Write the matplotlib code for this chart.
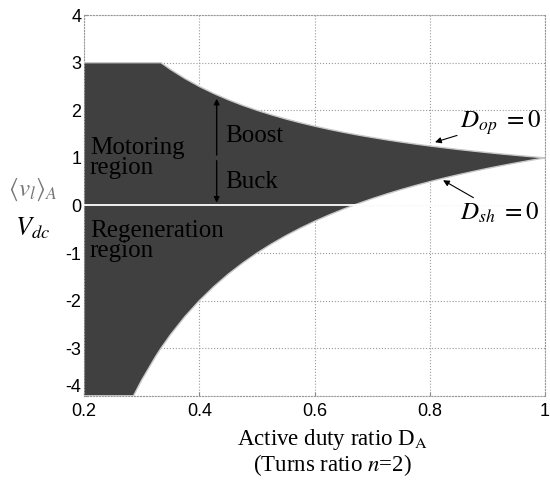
import matplotlib.pyplot as plt
import numpy as np

# Operating region (active duty ratio vs normalised voltage)
duty = [0.200, 0.225, 0.250, 0.275, 0.2857, 0.300, 0.325, 0.3333, 0.350, 0.375,
        0.400, 0.425, 0.450, 0.475, 0.500, 0.525, 0.550, 0.575, 0.600, 0.625,
        0.650, 0.675, 0.700, 0.725, 0.750, 0.775, 0.800, 0.825, 0.850, 0.875,
        0.900, 0.925, 0.950, 0.975, 1.000]
upper = [3.0, 3.0, 3.0, 3.0, 3.0, 3.0, 3.0, 3.0, 2.857, 2.667,
         2.5, 2.353, 2.222, 2.105, 2.0, 1.905, 1.818, 1.739, 1.667, 1.6,
         1.538, 1.481, 1.429, 1.379, 1.333, 1.290, 1.25, 1.212, 1.176, 1.143,
         1.111, 1.081, 1.053, 1.026, 1.0]
lower = [-4.0, -4.0, -4.0, -4.0, -4.0, -3.667, -3.154, -3.0, -2.714, -2.333,
         -2.0, -1.706, -1.444, -1.211, -1.0, -0.810, -0.636, -0.478, -0.333, -0.2,
         -0.077, 0.037, 0.143, 0.241, 0.333, 0.419, 0.5, 0.576, 0.647, 0.714,
         0.778, 0.838, 0.895, 0.949, 1.0]

xticks = [0.2, 0.4, 0.6, 0.8, 1]
yticks = [-4, -3, -2, -1, 0, 1, 2, 3, 4]

plt.rcParams['mathtext.fontset'] = 'stix'
plt.rcParams['axes.unicode_minus'] = False
serif = 'Liberation Serif'

fig = plt.figure(figsize=(5.5, 4.88), dpi=100)
ax = fig.add_axes([0.153, 0.189, 0.838, 0.780])

ax.fill_between(duty, lower, upper, facecolor='#404040', edgecolor='none', zorder=2)
ax.plot(duty, upper, color='#c8c8c8', lw=1.0, zorder=3)
ax.plot(duty, lower, color='#c8c8c8', lw=1.0, zorder=3)
ax.axhline(0, color='white', lw=1.3, zorder=3)

ax.set_xlim(0.2, 1)
ax.set_ylim(-4, 4)
ax.set_xticks(xticks)
ax.set_xticklabels(['0.2', '0.4', '0.6', '0.8', '1'])
ax.set_yticks(yticks)
ax.tick_params(direction='in', length=3, labelsize=13, color='#888888')
ax.tick_params(axis='x', pad=5)
ax.tick_params(axis='y', pad=2)
for lab in ax.get_xticklabels() + ax.get_yticklabels():
    lab.set_family('Liberation Sans')
ax.get_yticklabels()[0].set_va('bottom')
ax.grid(True, linestyle=':', color='#999999', lw=0.8, zorder=1)
for s in ax.spines.values():
    s.set_linestyle(':')
    s.set_color('#999999')
    s.set_linewidth(0.8)

# region labels
ax.text(0.21, 1.0, 'Motoring\nregion', family=serif, fontsize=18, color='black',
        va='center', ha='left', linespacing=0.9, zorder=4)
ax.text(0.21, -0.75, 'Regeneration\nregion', family=serif, fontsize=18, color='black',
        va='center', ha='left', linespacing=0.9, zorder=4)
ax.text(0.445, 1.45, 'Boost', family=serif, fontsize=18, color='black',
        va='center', ha='left', zorder=4)
ax.text(0.445, 0.5, 'Buck', family=serif, fontsize=18, color='black',
        va='center', ha='left', zorder=4)
ax.annotate('', xy=(0.43, 2.3), xytext=(0.43, 1.0),
            arrowprops=dict(arrowstyle='-|>', color='black', lw=1, mutation_scale=8), zorder=4)
ax.annotate('', xy=(0.43, 0.0), xytext=(0.43, 1.0),
            arrowprops=dict(arrowstyle='-|>', color='black', lw=1, mutation_scale=8), zorder=4)

# boundary labels
ax.annotate(r'$D_{op}\ =0$', xy=(0.809, 1.33), xytext=(0.852, 1.75),
            fontsize=18, va='center', ha='left',
            arrowprops=dict(arrowstyle='-|>', color='black', lw=0.8, mutation_scale=9,
                            shrinkA=0, shrinkB=0), zorder=4)
ax.annotate(r'$D_{sh}\ =0$', xy=(0.823, 0.53), xytext=(0.852, -0.15),
            fontsize=18, va='center', ha='left',
            arrowprops=dict(arrowstyle='-|>', color='black', lw=0.8, mutation_scale=9,
                            shrinkA=0, shrinkB=0), zorder=4)

# y label as a stacked fraction
ax.text(0.110, 0.33, r'$\langle v_l\rangle_A$', fontsize=18, color='#777777',
        ha='center', va='center', clip_on=False)
ax.text(0.110, -0.49, r'$V_{dc}$', fontsize=19, color='black',
        ha='center', va='center', clip_on=False)

fig.text(0.605, 0.073, 'Active duty ratio D$_\\mathrm{A}$\n(Turns ratio $n$=2)',
         family=serif, fontsize=16.5, ha='center', va='center', linespacing=1.0)

fig.savefig('out.png', dpi=100)
